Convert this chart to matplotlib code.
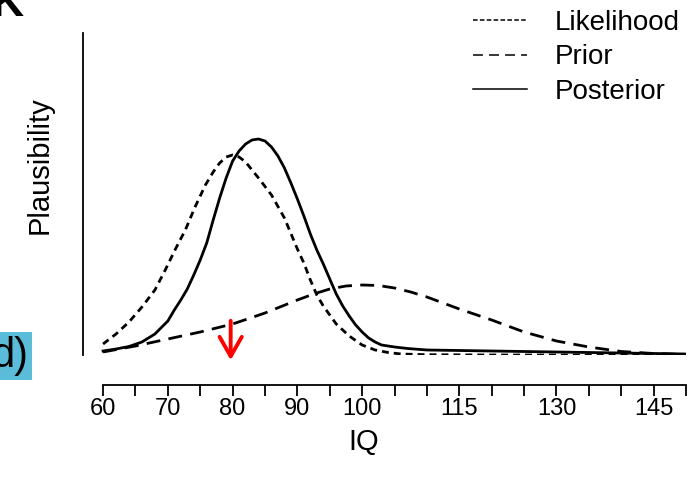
import matplotlib
matplotlib.use('Agg')
import matplotlib.pyplot as plt
from matplotlib.lines import Line2D

plt.rcParams['font.family'] = ['Liberation Sans', 'DejaVu Sans']

# values (arbitrary plausibility units)
iq_lik = [60, 62, 64, 66, 68, 69.6, 71.1, 72.7, 74.2, 75.8, 77, 78, 79, 80, 81, 82,
          84, 86, 88, 90, 91, 92, 93, 94, 96, 98, 100, 102, 104, 106, 110, 120, 150]
likelihood = [11, 21, 33, 48, 65, 85, 105, 125, 148, 170, 183, 192, 198, 200, 198, 193,
              177, 160, 137, 106, 92, 75, 60, 49, 31, 19, 10, 5, 2.5, 1, 0.3, 0, 0]

iq_prior = [60, 65, 70, 75, 80, 85, 90, 92.5, 95, 97.5, 100, 102.5, 105, 107.5, 110, 112.5,
            115, 120, 125, 130, 135, 140, 145, 150]
prior = [3, 9, 16, 23, 31, 42, 55, 61, 66, 69, 70, 69.5, 67, 63, 58, 52,
         46, 35, 23, 14, 8, 3.5, 1.5, 0.5]

iq_post = [60, 62, 64, 66, 68, 70, 71, 72, 73, 74, 75, 76, 77, 78, 79, 80, 81, 82, 83, 84,
           85, 86, 87, 88, 89, 90, 91, 92, 93, 94, 95, 96, 97, 98, 99, 100, 101, 102, 103,
           105, 107, 110, 115, 120, 130, 140, 150]
posterior = [4, 6, 8.5, 13, 21, 34, 45, 55, 66, 80, 95, 112, 135, 157, 177, 194, 204, 211, 215, 216,
             214, 208, 199, 187, 172, 156, 139, 121, 105, 91, 76, 61, 49, 39, 30, 23, 17, 13, 10,
             8, 6.5, 5, 4.5, 4, 3, 2, 1]

xticks = list(range(60, 151, 5))
xlabels = ['60', '70', '80', '90', '100', '115', '130', '145']
arrow_iq = 79.7

fig = plt.figure(figsize=(6.95, 4.80), dpi=100)
ax = fig.add_axes([83/695, 125/480, 603/695, 322/480])

lw = 2.0
ax.plot(iq_lik, likelihood, color='black', lw=lw, dashes=(2.5, 1.8))
ax.plot(iq_prior, prior, color='black', lw=lw, dashes=(5.0, 3.0))
ax.plot(iq_post, posterior, color='black', lw=lw)

ax.set_xlim(56.9, 150)
ax.set_ylim(0, 322)

ax.spines['top'].set_visible(False)
ax.spines['right'].set_visible(False)
ax.spines['left'].set_linewidth(1.3)
ax.spines['bottom'].set_linewidth(1.3)
ax.spines['bottom'].set_position(('outward', 21.6))
ax.spines['bottom'].set_bounds(60, 150)

ax.set_yticks([])
ax.set_xticks(xticks)
ax.set_xticklabels([str(t) if str(t) in xlabels else '' for t in xticks])
ax.tick_params(axis='x', length=8, width=1.3, labelsize=17, pad=1.5)

ax.set_xlabel('IQ', fontsize=21, va='center')
ax.xaxis.set_label_coords(0.466, -0.27)
ax.set_ylabel('Plausibility', fontsize=21, va='center')
ax.yaxis.set_label_coords(-0.0713, 0.59)

# red arrow
ax.annotate('', xy=(arrow_iq, -8), xytext=(arrow_iq, 37),
            arrowprops=dict(arrowstyle='->,head_length=0.7,head_width=0.4',
                            color='red', lw=2.8, mutation_scale=20),
            annotation_clip=False)

handles = [Line2D([], [], color='black', lw=1.1, dashes=(3, 1.5)),
           Line2D([], [], color='black', lw=1.1, dashes=(6.5, 4)),
           Line2D([], [], color='black', lw=1.1)]
fig.legend(handles, ['Likelihood', 'Prior', 'Posterior'], loc='upper left',
           bbox_to_anchor=(473/695, 1 - 10/480), frameon=False, fontsize=20,
           handlelength=1.95, handletextpad=1.0, labelspacing=0.3,
           borderpad=0, borderaxespad=0)

# panel letters cut at the edge
fig.text(-8/695, 1 - 16/480, 'K', fontsize=32, fontweight='bold', ha='left', va='baseline')
fig.text(28/695, 1 - 356/480, 'd)', fontsize=30, ha='right', va='center',
         bbox=dict(boxstyle='square,pad=0.1', facecolor='#5bbcd9', edgecolor='none'))

fig.savefig('out.png', dpi=100)
